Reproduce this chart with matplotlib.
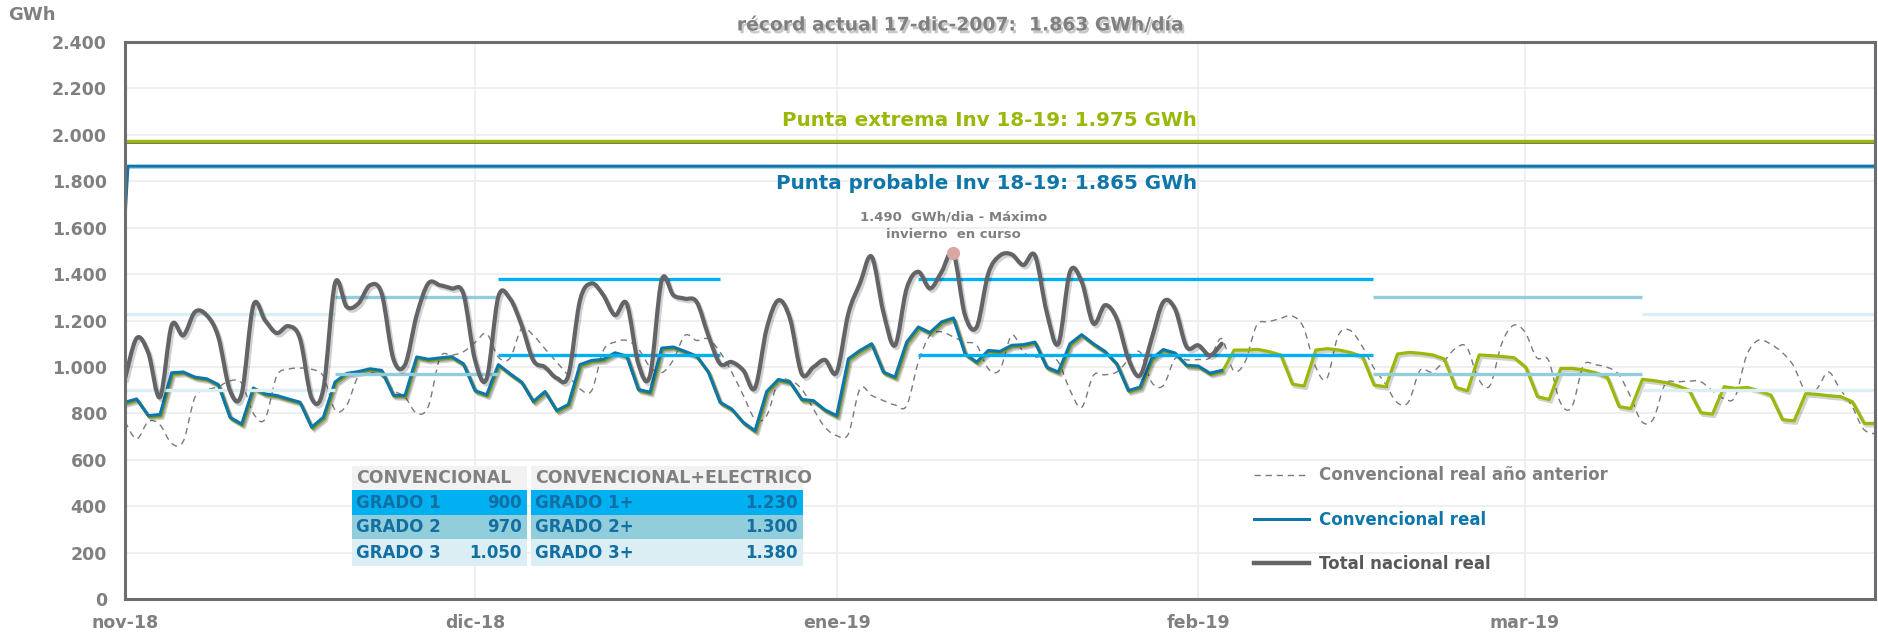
import matplotlib
matplotlib.use("Agg")
import matplotlib.pyplot as plt
import matplotlib.patheffects as pe
import matplotlib.transforms as mtransforms
from matplotlib.path import Path
from matplotlib.patches import PathPatch, Rectangle
from matplotlib.lines import Line2D
from matplotlib.ticker import FuncFormatter
import numpy as np

plt.rcParams["font.family"] = "DejaVu Sans"

# daily demand, GWh*1000 (MWh), day 0 = 1-nov-2018
total_real = [949, 1124, 1060, 870, 1179, 1136, 1237, 1223, 1129, 898, 884, 1265, 1201, 1146, 1176, 1122,
              865, 905, 1360, 1259, 1273, 1352, 1316, 1035, 1009, 1223, 1360, 1352, 1338, 1316, 1030, 950,
              1302, 1294, 1179, 1028, 999, 952, 963, 1287, 1360, 1309, 1223, 1273, 1014, 963, 1374, 1309,
              1294, 1280, 1136, 1014, 1021, 985, 909, 1165, 1287, 1208, 971, 999, 1030, 977, 1230, 1360,
              1475, 1237, 1093, 1338, 1410, 1338, 1410, 1490, 1223, 1172, 1403, 1480, 1485, 1439, 1480,
              1237, 1100, 1410, 1367, 1187, 1266, 1208, 1035, 963, 1122, 1280, 1250, 1086, 1093, 1050, 1100]

conv_real = [848, 862, 790, 795, 975, 978, 956, 949, 924, 783, 754, 909, 884, 877, 862, 848, 740, 783,
             935, 972, 980, 992, 985, 878, 877, 1043, 1033, 1039, 1044, 1014, 898, 880, 1010, 971, 935,
             851, 894, 812, 838, 1010, 1028, 1033, 1061, 1047, 903, 891, 1081, 1086, 1067, 1047, 978, 848,
             819, 761, 725, 894, 946, 935, 860, 855, 815, 790, 1035, 1071, 1100, 978, 956, 1107, 1172,
             1148, 1194, 1211, 1057, 1021, 1071, 1067, 1093, 1096, 1107, 999, 978, 1100, 1139, 1100, 1067,
             1014, 898, 913, 1035, 1075, 1060, 1007, 1004, 973, 985]

# forecast for the rest of the winter (from 5-feb)
conv_prev_rest = [1078, 1078, 1081, 1071, 1057, 931, 923, 1078, 1084, 1078, 1067, 1050, 927, 920, 1061,
                  1068, 1064, 1057, 1040, 917, 902, 1057, 1054, 1050, 1045, 1004, 877, 865, 999, 999, 992,
                  980, 960, 834, 826, 952, 946, 938, 924, 905, 808, 802, 920, 913, 917, 902, 884, 778, 773,
                  891, 887, 881, 877, 855, 762, 762]

conv_prev_year = [764, 690, 765, 750, 670, 680, 870, 900, 915, 940, 930, 800, 775, 960, 990, 995, 990, 960,
                  815, 835, 960, 975, 960, 900, 870, 800, 830, 1040, 1050, 1065, 1105, 1143, 1042, 1038,
                  1165, 1136, 1078, 1021, 963, 905, 898, 1071, 1107, 1114, 1078, 1000, 975, 1030, 1136, 1114,
                  1121, 1064, 978, 877, 776, 790, 935, 941, 905, 819, 740, 704, 711, 906, 877, 855, 836, 833,
                  1021, 1136, 1151, 1129, 1107, 1093, 992, 989, 1136, 1064, 1042, 1050, 1021, 900, 826, 963,
                  966, 978, 1028, 1064, 934, 920, 1035, 1030, 1032, 1040, 1122, 985, 1021, 1179, 1194, 1208,
                  1220, 1172, 1006, 949, 1136, 1158, 1093, 999, 930, 848, 848, 985, 978, 1021, 1078, 1086,
                  949, 920, 1100, 1179, 1150, 1040, 1030, 850, 826, 1005, 1009, 999, 970, 877, 765, 776, 925,
                  935, 938, 938, 900, 865, 870, 1050, 1115, 1100, 1064, 1006, 900, 905, 978, 905, 834, 733, 711]

# peak forecasts
punta_extrema = 1975
punta_probable = 1865
prob_days = [0, 0.25, 150]
prob_vals = [1640, 1865, 1865]
max_day = 71
max_val = 1490

# alert levels (tables) and the days they apply
conv_labels = ['GRADO 1', 'GRADO 2', 'GRADO 3']
conv_vals = [900, 970, 1050]
elec_labels = ['GRADO 1+', 'GRADO 2+', 'GRADO 3+']
elec_vals = [1230, 1300, 1380]
grado_start = [0, 18, 32, 68, 107, 130]
grado_end = [18, 32, 51, 107, 130, 150]
grado_level = [0, 1, 2, 2, 1, 0]

month_days = [0, 30, 61, 92, 120]
month_labels = ['nov-18', 'dic-18', 'ene-19', 'feb-19', 'mar-19']

grado_colors = ['#daeef3', '#92cddc', '#00b0f0']  # lines on chart
table_colors = ['#00b0f0', '#92cddc', '#daeef3']  # table rows
grey_txt = '#808080'
blue = '#0f76a9'
green = '#99b90a'
dark = '#636468'
table_txt = '#136ea2'


def smooth_path(xs, ys):  # excel-like smoothed line (catmull-rom as bezier)
    xs = np.asarray(xs, float)
    ys = np.asarray(ys, float)
    n = len(xs)
    verts = [(xs[0], ys[0])]
    codes = [Path.MOVETO]
    for i in range(n - 1):
        a = max(i - 1, 0)
        b = min(i + 2, n - 1)
        c1 = (xs[i] + (xs[i + 1] - xs[a]) / 6, ys[i] + (ys[i + 1] - ys[a]) / 6)
        c2 = (xs[i + 1] - (xs[b] - xs[i]) / 6, ys[i + 1] - (ys[b] - ys[i]) / 6)
        verts += [c1, c2, (xs[i + 1], ys[i + 1])]
        codes += [Path.CURVE4] * 3
    return Path(verts, codes)


W, H = 1878, 636
fig = plt.figure(figsize=(W / 100, H / 100), dpi=100)
ax = fig.add_axes([125 / W, 37 / H, 1750 / W, 557 / H])

shadow = [pe.SimpleLineShadow(offset=(1.5, -1.8), shadow_color='k', alpha=0.18), pe.Normal()]

days_real = np.arange(len(conv_real))
conv_prev = conv_real + conv_prev_rest
days_prev = np.arange(len(conv_prev))
days_prev_year = np.arange(len(conv_prev_year))
days_total = np.arange(len(total_real))

# previous year, thin dashed smooth
ax.add_patch(PathPatch(smooth_path(days_prev_year, conv_prev_year), fill=False, edgecolor='#7a7a7a',
                       lw=1.0, linestyle=(0, (4.5, 3.5)), zorder=2))

# forecast (green) slightly offset under the real line
off = mtransforms.offset_copy(ax.transData, fig=fig, x=0.6, y=-0.9, units='points')
ax.plot(days_prev, conv_prev, color=green, lw=2.3, transform=off, zorder=3, path_effects=shadow)
ax.plot(days_real, conv_real, color=blue, lw=2.2, zorder=4, path_effects=shadow)

# alert level segments
for s, e, g in zip(grado_start, grado_end, grado_level):
    ax.plot([s, e], [conv_vals[g], conv_vals[g]], color=grado_colors[g], lw=2.4, zorder=5, solid_capstyle='butt')
    ax.plot([s, e], [elec_vals[g], elec_vals[g]], color=grado_colors[g], lw=2.4, zorder=5, solid_capstyle='butt')

# total national, thick smooth
ax.add_patch(PathPatch(smooth_path(days_total, total_real), fill=False, edgecolor=dark, lw=3.0,
                       zorder=6, path_effects=shadow, capstyle='round', joinstyle='round'))

# peak forecast lines
down = mtransforms.offset_copy(ax.transData, fig=fig, x=0, y=-1.4, units='points')
ax.plot([0, 150], [punta_extrema, punta_extrema], color='#4b5560', lw=1.2, transform=down, zorder=6)
ax.plot([0, 150], [punta_extrema, punta_extrema], color=green, lw=2.4, zorder=7)
ax.plot(prob_days, prob_vals, color='#9fd0e4', lw=1.2, transform=down, zorder=6)
ax.plot(prob_days, prob_vals, color=blue, lw=2.2, zorder=7)

ax.text(91.9, 2060, 'Punta extrema Inv 18-19: 1.975 GWh', color=green, fontsize=14.3, fontweight='bold',
        ha='right', va='center', zorder=8)
ax.text(91.9, 1792, 'Punta probable Inv 18-19: 1.865 GWh', color=blue, fontsize=14.3, fontweight='bold',
        ha='right', va='center', zorder=8)

# winter maximum
ax.plot([max_day], [max_val], 'o', color='#d9a6a6', markersize=8.5, zorder=9)
ax.annotate('1.490  GWh/dia - Máximo\ninvierno  en curso', xy=(max_day, max_val), xytext=(0, 9),
            textcoords='offset points', ha='center', va='bottom', fontsize=9.5, fontweight='bold',
            color=grey_txt, linespacing=1.45, zorder=9)

# axes styling
ax.set_xlim(0, 150)
ax.set_ylim(0, 2400)
ax.set_yticks(np.arange(0, 2401, 200))
ax.yaxis.set_major_formatter(FuncFormatter(lambda v, p: '{:,}'.format(int(v)).replace(',', '.')))
ax.set_xticks(month_days)
ax.set_xticklabels(month_labels)
ax.tick_params(axis='both', length=0, labelsize=12.5, labelcolor=grey_txt)
ax.tick_params(axis='y', pad=13)
ax.tick_params(axis='x', pad=11)
for lab in ax.get_xticklabels() + ax.get_yticklabels():
    lab.set_fontweight('bold')
ax.grid(True, color='#ececec', lw=1.2, zorder=0)
ax.set_axisbelow(True)
for sp in ax.spines.values():
    sp.set_color('#6b6d70')
    sp.set_linewidth(2.2)
    sp.set_zorder(10)

# legend
handles = [Line2D([], [], color='#7a7a7a', lw=1.0, linestyle=(0, (4.5, 3.5))),
           Line2D([], [], color=blue, lw=2.2),
           Line2D([], [], color=dark, lw=3.2)]
leg = ax.legend(handles, ['Convencional real año anterior', 'Convencional real', 'Total nacional real'],
                loc='upper left', bbox_to_anchor=(0.645, 0.238), frameon=False, borderpad=0,
                borderaxespad=0, handlelength=3.3, handletextpad=0.6, labelspacing=1.58,
                prop={'weight': 'bold', 'size': 12}, labelcolor=[grey_txt, blue, '#595959'])

# tables (pixel layout, y from top)
def fx(x):
    return x / W


def fy(y):
    return 1 - y / H


rows_y = [490, 515, 539, 566]
for (x0, x1, head, labels, vals) in [(352, 527, 'CONVENCIONAL', conv_labels, conv_vals),
                                     (531, 803, 'CONVENCIONAL+ELECTRICO', elec_labels, elec_vals)]:
    fig.patches.append(Rectangle((fx(x0), fy(490)), fx(x1 - x0), 24 / H, transform=fig.transFigure,
                                 facecolor='#f2f2f2', edgecolor='none', zorder=20))
    fig.text(fx(x0 + 4), fy(478), head, color=grey_txt, fontsize=12.5, fontweight='bold', va='center', zorder=21)
    for i in range(3):
        ya, yb = rows_y[i], rows_y[i + 1]
        fig.patches.append(Rectangle((fx(x0), fy(yb)), fx(x1 - x0), (yb - ya) / H, transform=fig.transFigure,
                                     facecolor=table_colors[i], edgecolor='none', zorder=20))
        fig.text(fx(x0 + 4), fy((ya + yb) / 2), labels[i], color=table_txt, fontsize=12,
                 fontweight='bold', va='center', zorder=21)
        fig.text(fx(x1 - 5), fy((ya + yb) / 2), '{:,}'.format(vals[i]).replace(',', '.'), color=table_txt,
                 fontsize=12, fontweight='bold', va='center', ha='right', zorder=21)

# titles
fig.text(960 / W, fy(25), 'récord actual 17-dic-2007:  1.863 GWh/día', color=grey_txt, fontsize=13.5,
         fontweight='bold', ha='center', va='center',
         path_effects=[pe.SimplePatchShadow(offset=(1.5, -2), alpha=0.25), pe.Normal()])
fig.text(8 / W, fy(15), 'GWh', color=grey_txt, fontsize=13, fontweight='bold', va='center')

fig.savefig('out.png', dpi=100)
